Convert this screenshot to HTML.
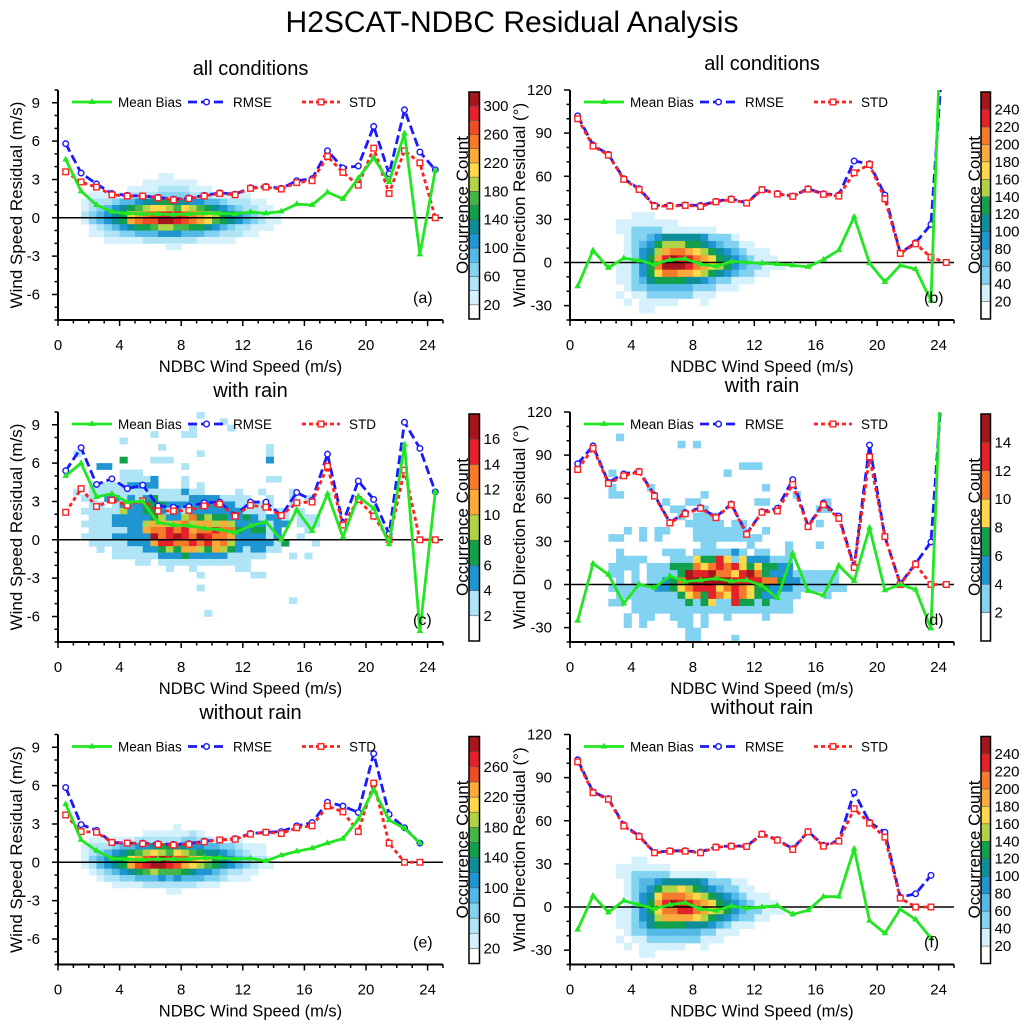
<!DOCTYPE html>
<html><head><meta charset="utf-8"><style>
html,body{margin:0;padding:0;background:#fff}
svg{display:block;font-family:"Liberation Sans",Arial,sans-serif}
</style></head><body>
<svg id="fig" width="1024" height="1027" viewBox="0 0 1024 1027">
<text x="512" y="32" text-anchor="middle" font-size="30">H2SCAT-NDBC Residual Analysis</text>
<defs id="defs"></defs>
</svg>
<script>
// ---------- data ----------
const windBins = [0.5,1.5,2.5,3.5,4.5,5.5,6.5,7.5,8.5,9.5,10.5,11.5,12.5,13.5,14.5,15.5,16.5,17.5,18.5,19.5,20.5,21.5,22.5,23.5,24.5];

const aBias = [4.56,2.08,1.0,0.47,0.35,0.3,0.3,0.25,0.3,0.35,0.35,0.3,0.45,0.35,0.5,1.07,1.0,2.0,1.48,3.1,4.7,2.8,6.6,-2.86,3.7];
const aRmse = [5.8,3.5,2.65,1.9,1.75,1.7,1.6,1.45,1.55,1.75,1.95,1.85,2.35,2.45,2.3,2.9,3.05,5.25,3.9,4.05,7.15,3.45,8.45,5.15,3.75];
const aStd  = [3.6,2.8,2.4,1.8,1.7,1.7,1.55,1.4,1.5,1.7,1.9,1.8,2.3,2.4,2.25,2.75,2.9,4.8,3.55,2.55,5.45,1.9,5.25,4.3,0];

const bBias = [-16.5,8.4,-3.7,3,1.4,-1.2,1.9,2.6,-1.2,-2.6,0.7,0,-0.5,-1,-2,-3,2,8.6,31.8,-0.5,-13.5,-2,-4.6,-26.5,270];
const bRmse = [102,81.7,75.2,58.3,51.3,39.7,39.7,40,39.7,42.5,44.3,41.5,50.8,48,46.2,51.3,47.8,47,70.6,68.7,47,6.7,13.7,26.5,180];
const bStd  = [100,81,74.7,57.8,50.8,39.2,39.2,39.7,39,42.2,43.9,41.3,50.6,47.6,46,51,47.4,46.2,62.4,68.2,44.3,6.3,13,3.7,0];

const cBias = [5.0,6.0,3.35,3.6,2.95,3.0,1.35,1.15,1.1,0.9,0.8,0.55,1.1,1.4,0,2.35,0.7,3.6,0.2,3.4,2.45,-0.35,7.45,-7.15,3.75];
const cRmse = [5.4,7.2,4.33,4.77,4.0,4.28,2.65,2.55,2.6,2.9,2.95,1.9,2.95,2.95,1.9,3.7,3.1,6.7,1.3,4.6,3.15,0.45,9.2,7.15,3.75];
const cStd  = [2.15,4.0,2.6,3.1,2.7,3.05,2.25,2.25,2.3,2.65,2.8,1.85,2.7,2.55,1.9,2.9,2.95,5.75,1.15,3.15,1.85,0,5.45,0,0];

const dBias = [-25.2,14.6,6.9,-13.2,0.2,-2.3,6,2,3,4.2,2.3,3,-0.7,-9.5,21.7,-4.4,-7.6,13.2,2.5,39.5,-4,0,-3.5,-30.5,243];
const dRmse = [84,96.4,71,77,78.8,62.2,43.2,50,53.4,47,56,35.4,50.6,53,73,40.7,56.6,47.6,12.5,97,33.3,0.5,14.6,29.6,180];
const dStd  = [80,94.8,70.3,75.6,78.4,61.5,42.8,49.2,53,46.5,55.5,34.9,50.2,51.1,69.6,40.2,55.5,46,11.8,88.8,33.3,0,14.1,0,0];

const eBias = [4.55,1.75,0.9,0.3,0.25,0.2,0.25,0.25,0.25,0.35,0.35,0.25,0.3,0.1,0.55,0.85,1.1,1.5,1.85,3.35,5.7,3.3,2.65,1.5];
const eRmse = [5.85,2.95,2.5,1.55,1.5,1.5,1.45,1.4,1.45,1.65,1.75,1.85,2.25,2.35,2.4,2.85,3.1,4.7,4.4,3.9,8.5,3.75,2.7,1.5];
const eStd  = [3.7,2.4,2.35,1.55,1.5,1.45,1.4,1.35,1.4,1.6,1.75,1.8,2.2,2.35,2.25,2.7,2.85,4.4,3.95,2.4,6.2,1.5,0,0];

const fBias = [-15.7,7.9,-3.7,4.4,1.6,-1.2,1.6,3,-1.4,-2.5,0.7,-0.9,0,0.9,-5.1,-2.3,7.2,7.2,40.5,-9.5,-18.3,-1.6,-8.6,-21.7];
const fRmse = [102.4,80,75.4,57.1,49.5,37.9,39.1,39.1,38.2,41.8,42.5,42.3,50.9,46.9,40.5,52.5,43,46.2,79.8,59,52,6.9,9.2,22];
const fStd  = [101,79.5,74.9,56.4,49,37.7,38.8,38.8,37.7,41.6,42.3,42.1,50.6,46.5,40,52.3,42.3,45.8,68.4,58.3,48.6,6.2,0,0];

// occurrence-count bins (each char = colour-level index of the count, 0 = empty)
const aCountRows = ["0000000000011000000000000000","0000000001111111000000000000","0000000111122221110000000000","0011111222233332221111100000","0122234456677665544322211000","0123456789aa98a9876543221100","0234567abcdeeedcba9765432110","0134567bcddffedcba8765432110","0012345677899887765432211100","0011223344455544433222110000","0000111112222222111110000000","0000000000001100000000000000"];
const aCountY = [3.0,2.5,2.0,1.5,1.0,0.5,0.0,-0.5,-1.0,-1.5,-2.0,-2.5];
const bCountRows = ["00011100000000000000000000","01111111100000000000000000","01122221111111000000000000","00122345555542221000000000","00123467776654322110000000","00124579aa9876543211100000","0012469bcbba98654321110000","011246acccba98764322111000","0112468aa99876543221100000","01123566665543221110000000","00122333333222111000000000","01011222222111000000000000","00101111100010000000000000","00001100000000000000000000"];
const bCountY = [30,25,20,15,10,5,0,-5,-10,-15,-20,-25,-30,-35];
const cCountRows = ["00000000000000000100000000000000000","00000000000000000000100000000000000","00000000000000001000010000000000000","00000000000100011000000000000000000","00000001000000000000000000000000000","00000000000010000000000000100000000","01000000000000000100000000100000000","00000003000111000000000000200000000","00002200000000010000000000000000000","00000001110000000000000000000000000","00000001111200010000000000110000000","00011111222200010100000000000000000","01011111111111121100001001000100000","00110221212311112222111100100101000","00011012223332222222221111100100000","00111114223321212222222111011010000","00011122222342246343322321221011100","00111122224554564554542222122011100","00011111225667675667663233120001000","00111122222867876876652222120010000","00011111222577667675642222213000100","00001011112234355435432122110000000","00000011111122232222211111000101000","00000000011011111111111100000000000","00000000000001001000001100000000000","00000000000000000100000011000000000","00000000000000000100000000000000000","00000000000000000000000000000100000","00000000000000000010000000000000000"];
const cCountY = [9.5,9.0,8.5,8.0,7.5,7.0,6.5,6.0,5.5,5.0,4.5,4.0,3.5,3.0,2.5,2.0,1.5,1.0,0.5,0.0,-0.5,-1.0,-1.5,-2.0,-2.5,-3.0,-4.0,-5.0,-6.0];
const dCountRows = ["0000010000000000000000000000000000000","0000000000000101000000000000000000000","0000000000000000000001110000000000000","0000100000000000000100000000000000000","0000100001000000000000001000000000000","0000110000000000100000000000100000000","0000000000010011000000011000000010000","0000000000001100100000000000000110000","0000000000000101110000000000000000000","0000000000000011111011000000000100000","0000001010110001111111001000000000000","0000110010100001111111110000000000000","0000000000000000110000100001000100000","0000010000011101111121011001000000000","0000011110001114336414222111000000000","0000111101113335456564343322000000000","0000110101111376675546753222111111000","0000010101123577777766665532211111000","0000111111223456664565433222111111100","0000011111111345365465432211100010000","0000110111111131341163313111000000000","0000000111111111111111111111000000000","0000001011001110100100001000000000000","0000001010000110100000000000000000000","0000000000000011000000000000000000000","0000000000000011000010000000000000000"];
const dCountY = [100,95,80,75,65,60,55,50,45,40,35,30,25,20,15,10,5,0,-5,-10,-15,-20,-25,-30,-35,-40];
const eCountRows = ["0000000000000100000000000000","0000000001111112100000000000","0011111122222233221111000000","0122234455677665544332111000","0123456789a98a98766543211000","0134567abcdedccba97654322100","0124567bcdeedcba987654321100","0012345678988876554322110000","0001223344454544433211100000","0000011112222222111000000000","0000000000001100000000000000"];
const eCountY = [2.5,2.0,1.5,1.0,0.5,0.0,-0.5,-1.0,-1.5,-2.0,-2.5];
const fCountRows = ["00011000000000000000000000","01111111000000000000000000","01122222111111000000000000","00123345555542221100000000","00123467787654322110000000","0012458aaa9876543211100000","0012469bcbba98654321110000","0112468aabba98764322111000","0112457999987654322110000","01123566665554321110000000","00122333333322111000000000","01011222222211100000000000","00101111110010000000000000","00001100000000000000000000"];
const fCountY = [30,25,20,15,10,5,0,-5,-10,-15,-20,-25,-30,-35];

const aCbLabels = [20,60,100,140,180,220,260,300];
const bCbLabels = [20,40,60,80,100,120,140,160,180,200,220,240];
const cCbLabels = [2,4,6,8,10,12,14,16];
const dCbLabels = [2,4,6,8,10,12,14];
const eCbLabels = [20,60,100,140,180,220,260];
const fCbLabels = [20,40,60,80,100,120,140,160,180,200,220,240];

// ---------- styles ----------
const V=["#fff","#d5f1fb","#aee4f6","#82d3f1","#52b8e6","#1f95d2","#0e8e96","#13a04c","#44b549","#b3d346","#fdd94a","#f9aa3b","#f47b2b","#ef4c27","#e3222a","#a6161c"];
const pick = idx => ["#fff"].concat(idx.map(i=>V[i]));
const NS='http://www.w3.org/2000/svg';
const svg=document.getElementById('fig');
const defs=document.getElementById('defs');
function mk(tag,attrs,parent){const e=document.createElementNS(NS,tag);for(const k in attrs)e.setAttribute(k,attrs[k]);(parent||svg).appendChild(e);return e;}

const G='#22e622', B='#1a1aff', R='#ff2020';
const PH=230;
const rowTops=[90,412,734.5];

const panels=[
 {id:'a',col:0,row:0,title:'all conditions',speed:true,mb:aBias,rm:aRmse,sd:aStd,rows:aCountRows,ys:aCountY,gx0:1.0,gdy:0.5,pal:pick([1,2,3,4,5,6,7,8,9,10,11,12,13,14,15]),cbStep:20,cbBoxes:16,cbLabels:aCbLabels},
 {id:'b',col:1,row:0,title:'all conditions',speed:false,mb:bBias,rm:bRmse,sd:bStd,rows:bCountRows,ys:bCountY,gx0:2.5,gdy:5,pal:pick([1,3,4,5,6,7,9,10,11,12,14,15]),cbStep:20,cbBoxes:13,cbLabels:bCbLabels},
 {id:'c',col:0,row:1,title:'with rain',speed:true,mb:cBias,rm:cRmse,sd:cStd,rows:cCountRows,ys:cCountY,gx0:0.5,gdy:0.5,pal:pick([2,5,7,9,11,12,14,15]),cbStep:2,cbBoxes:9,cbLabels:cCbLabels},
 {id:'d',col:1,row:1,title:'with rain',speed:false,mb:dBias,rm:dRmse,sd:dStd,rows:dCountRows,ys:dCountY,gx0:0.5,gdy:5,pal:pick([3,5,7,10,12,14,15]),cbStep:2,cbBoxes:8,cbLabels:dCbLabels},
 {id:'e',col:0,row:2,title:'without rain',speed:true,mb:eBias,rm:eRmse,sd:eStd,rows:eCountRows,ys:eCountY,gx0:1.0,gdy:0.5,pal:pick([1,2,3,4,5,6,7,8,9,10,11,13,14,15]),cbStep:20,cbBoxes:15,cbLabels:eCbLabels},
 {id:'f',col:1,row:2,title:'without rain',speed:false,mb:fBias,rm:fRmse,sd:fStd,rows:fCountRows,ys:fCountY,gx0:2.5,gdy:5,pal:pick([1,3,4,5,6,7,9,10,11,12,14,15]),cbStep:20,cbBoxes:13,cbLabels:fCbLabels}
];

panels.forEach(p=>{
  const top=rowTops[p.row], bot=top+PH;
  const px0=p.col?570:58, px1=p.col?954:443;
  const yMin=p.speed?-8:-40, yMax=p.speed?10:120;
  const xs=x=>px0+x*(px1-px0)/25;
  const ys=y=>top+(yMax-y)/(yMax-yMin)*PH;
  const g=mk('g',{});
  
  

  const cp=mk('clipPath',{id:'clip'+p.id},defs);
  mk('rect',{x:px0,y:top,width:px1-px0,height:PH},cp);

  const st=mk('text',{x:(px0+px1)/2,y:(p.col?70:75)+p.row*322,'text-anchor':'middle','font-size':20},g);
  st.textContent=p.title;
  
  

  const hm=mk('g',{'clip-path':'url(#clip'+p.id+')'},g);
  
  
  p.rows.forEach((row,ri)=>{
    const yl=p.ys[ri];
    for(let k=0;k<row.length;k++){
      const lv=parseInt(row[k],16);
      if(!lv||lv>=p.pal.length)continue;
      const x=p.gx0+k*0.5;
      const r=mk('rect',{x:xs(x),y:ys(yl+p.gdy),width:xs(0.5)-xs(0)+0.4,height:ys(yl)-ys(yl+p.gdy)+0.4,fill:p.pal[lv]},hm);
      
      
    }
  });

  const zl=mk('line',{x1:px0,x2:px1,y1:ys(0),y2:ys(0),stroke:'#000','stroke-width':1.5},g);
  
  

  const ax=mk('path',{d:`M${px0},${top}V${bot}H${px1}`,fill:'none',stroke:'#000','stroke-width':2},g);
  
  
  let td='';
  for(let x=0;x<=25;x++){const L=(x%4===0)?6:3.5;td+=`M${xs(x)},${bot}v${L}`;}
  const yStep=p.speed?1:10, yMaj=p.speed?3:30;
  for(let y=yMin;y<=yMax;y+=yStep){const L=(y%yMaj===0)?6:3.5;td+=`M${px0},${ys(y)}h${-L}`;}
  const tk=mk('path',{d:td,stroke:'#000','stroke-width':1.5,fill:'none'},g);
  
  
  for(let x=0;x<=24;x+=4){
    const t=mk('text',{x:xs(x),y:bot+30,'text-anchor':'middle','font-size':15},g);
    t.textContent=x;
    
    
  }
  for(let y=p.speed?-6:-30;y<=yMax;y+=yMaj){
    const t=mk('text',{x:px0-18,y:ys(y)+5,'text-anchor':'end','font-size':15},g);
    t.textContent=y;
    
    
  }
  const xt=mk('text',{x:(px0+px1)/2,y:bot+52,'text-anchor':'middle','font-size':16.5},g);
  xt.textContent='NDBC Wind Speed (m/s)';
  
  
  const yx=p.col?525:22, yc=top+115;
  const yt=mk('text',{x:yx,y:yc,'text-anchor':'middle','font-size':17,transform:`rotate(-90 ${yx} ${yc})`},g);
  yt.textContent=p.speed?'Wind Speed Residual (m/s)':'Wind Direction Residual (°)';
  
  

  const sg=mk('g',{'clip-path':'url(#clip'+p.id+')'},g);
  function series(vals,color,dash,marker,name){
    const pts=vals.map((v,i)=>[xs(windBins[i]),ys(v)]);
    const l=mk('polyline',{points:pts.map(q=>q.join(',')).join(' '),fill:'none',stroke:color,'stroke-width':2.8,'stroke-dasharray':dash||'none','stroke-linejoin':'round'},sg);
    
    
    pts.forEach(q=>{
      let m;
      if(marker==='tri') m=mk('path',{d:`M${q[0]},${q[1]-3.8}l3.4,5.8h-6.8z`,fill:color},sg);
      else if(marker==='circ') m=mk('circle',{cx:q[0],cy:q[1],r:2.8,fill:'#fff',stroke:color,'stroke-width':1.4},sg);
      else m=mk('rect',{x:q[0]-2.8,y:q[1]-2.8,width:5.6,height:5.6,fill:'#fff',stroke:color,'stroke-width':1.4},sg);
      
      
    });
  }
  series(p.rm,B,'9,4','circ','rmse');
  series(p.sd,R,'4,3','sq','std');
  series(p.mb,G,null,'tri','mean-bias');

  const lg=mk('g',{},g);
  
  
  const ly=top+12;
  const ents=[[14,54,G,null,'tri','Mean Bias',60],[130,167,B,'9,4','circ','RMSE',175],[244,282,R,'4,3','sq','STD',291]];
  ents.forEach(e=>{
    const eg=mk('g',{},lg);
    
    
    mk('line',{x1:px0+e[0],x2:px0+e[1],y1:ly,y2:ly,stroke:e[2],'stroke-width':2.8,'stroke-dasharray':e[3]||'none'},eg);
    const cx=px0+(e[0]+e[1])/2;
    if(e[4]==='tri') mk('path',{d:`M${cx},${ly-3.8}l3.4,5.8h-6.8z`,fill:e[2]},eg);
    else if(e[4]==='circ') mk('circle',{cx:cx,cy:ly,r:2.8,fill:'#fff',stroke:e[2],'stroke-width':1.4},eg);
    else mk('rect',{x:cx-2.8,y:ly-2.8,width:5.6,height:5.6,fill:'#fff',stroke:e[2],'stroke-width':1.4},eg);
    const t=mk('text',{x:px0+e[6],y:ly+5,'font-size':13.5},eg);
    t.textContent=e[5];
  });

  const pl=mk('text',{x:px1-30,y:bot-17,'font-size':16},g);
  pl.textContent='('+p.id+')';
  
  

  const cb=mk('g',{},g);
  
  
  const cbx=p.col?981:469, cbw=p.col?9.5:10.5, cbt=top+2, cbh=227;
  const bh=cbh/p.cbBoxes;
  for(let i=0;i<p.cbBoxes;i++){
    const r=mk('rect',{x:cbx,y:cbt+cbh-(i+1)*bh,width:cbw,height:bh,fill:p.pal[i],stroke:'#555','stroke-width':0.5},cb);
    
    
  }
  mk('rect',{x:cbx,y:cbt,width:cbw,height:cbh,fill:'none',stroke:'#000','stroke-width':1.5},cb);
  p.cbLabels.forEach(v=>{
    const yy=cbt+cbh-(v/p.cbStep)*bh;
    const t=mk('text',{x:cbx+cbw+4,y:yy+5,'font-size':15},cb);
    t.textContent=v;
    
    
  });
  const ctx=p.col?980:468;
  const ct=mk('text',{x:ctx,y:yc,'text-anchor':'middle','font-size':17,transform:`rotate(-90 ${ctx} ${yc})`},cb);
  ct.textContent='Occurrence Count';
  
  
});
</script>
</body></html>
